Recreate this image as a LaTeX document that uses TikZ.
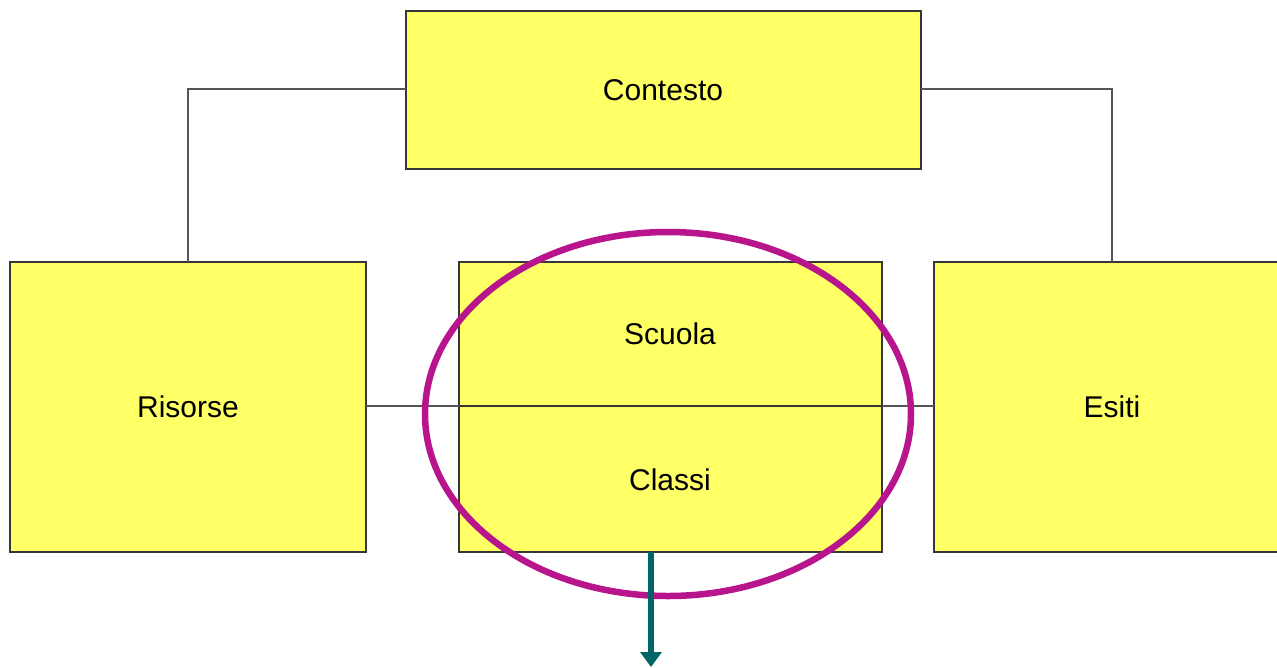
\documentclass[tikz,border=0pt]{standalone}
\usepackage{fontspec}
\setmainfont{Liberation Sans}
\usetikzlibrary{arrows.meta}
\definecolor{boxfill}{RGB}{255,255,102}
\definecolor{boxline}{RGB}{55,55,55}
\definecolor{linkgray}{RGB}{85,85,85}
\definecolor{ringcol}{RGB}{184,20,140}
\definecolor{arrowcol}{RGB}{0,102,102}
\tikzset{
  box/.style={draw=boxline, fill=boxfill, line width=2.2pt},
  label/.style={font=\fontsize{30}{34}\selectfont},
  link/.style={draw=linkgray, line width=1.8pt},
}
\begin{document}
\begin{tikzpicture}[x=1pt, y=-1pt]
\useasboundingbox (0,0) rectangle (1277,667);
\begin{scope}
\clip (0,0) rectangle (1277,667);
% boxes
\draw[box] (406,11) rectangle (921,169);
\draw[box] (10,262) rectangle (366,552);
\draw[box] (459,262) rectangle (882,552);
\draw[box] (934,262) rectangle (1292,552);
\node[label] (contesto) at (663,90) {Contesto};
\node[label] (risorse) at (188,407) {Risorse};
\node[label] (scuola) at (670,334) {Scuola};
\node[label] (classi) at (670,480) {Classi};
\node[label] (esiti) at (1112,407) {Esiti};
\coordinate (cL) at (406,89);
\coordinate (cR) at (921,89);
\coordinate (rT) at (188,262);
\coordinate (eT) at (1112,262);
\coordinate (rR) at (366,406);
\coordinate (mL) at (459,406);
\coordinate (mR) at (882,406);
\coordinate (eL) at (934,406);
\coordinate (mB) at (651,552);
\coordinate (tip) at (651,667);
% connectors
\draw[link] (cL) -| (rT);
\draw[link] (cR) -| (eT);
\draw[link] (rR) -- (mL);
\draw[boxline, line width=2.4pt] (mL) -- (mR);
\draw[link] (mR) -- (eL);
% highlight ring
\draw[ringcol, line width=6.5pt] (668,414) ellipse [x radius=243, y radius=182];
% outgoing arrow
\draw[arrowcol, line width=6pt, -{Triangle[length=15pt, width=21pt]}] (mB) -- (tip);
\end{scope}
\end{tikzpicture}
\end{document}
